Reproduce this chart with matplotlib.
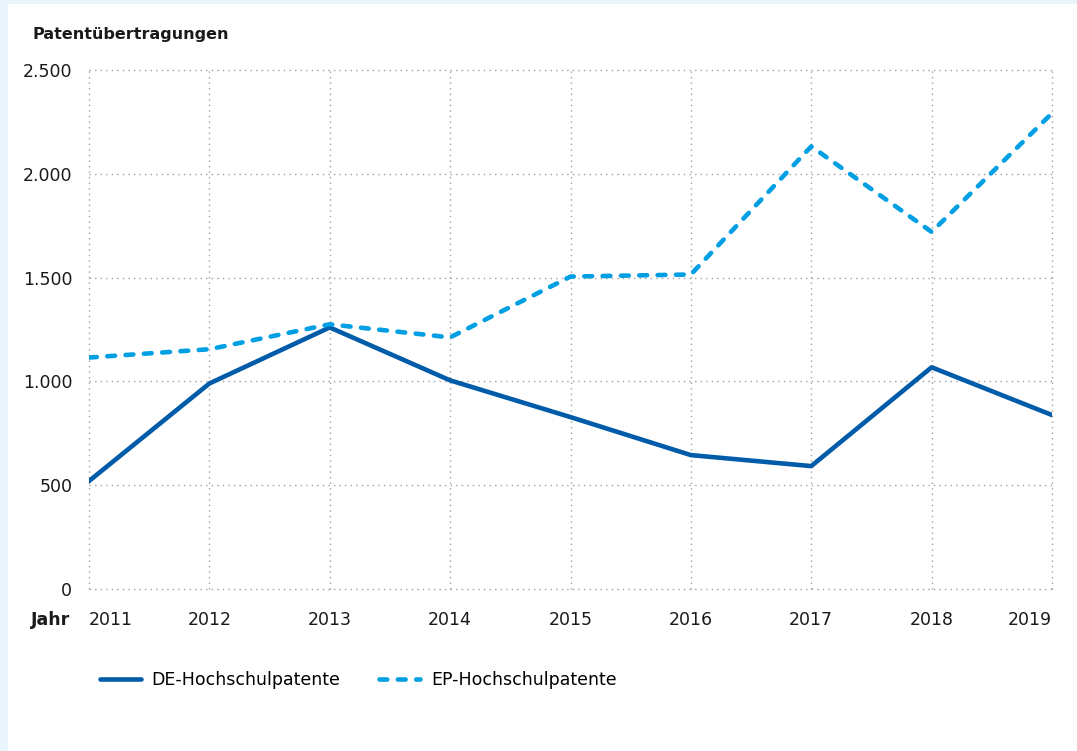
import matplotlib.pyplot as plt
from matplotlib.patches import Rectangle
import matplotlib.ticker as ticker

years = [2011, 2012, 2013, 2014, 2015, 2016, 2017, 2018, 2019]
de_patente = [520, 990, 1260, 1005, 828, 645, 592, 1068, 838]
ep_patente = [1115, 1155, 1275, 1212, 1505, 1515, 2132, 1720, 2292]
y_ticks = [0, 500, 1000, 1500, 2000, 2500]

plt.rcParams['font.family'] = ['DejaVu Sans']

fig = plt.figure(figsize=(10.77, 7.51), dpi=100, facecolor='#eaf4fb')
# weisse Flaeche mit hellblauem Rand links/oben
fig.patches.append(Rectangle((8 / 1077, 0), 1, 1 - 4 / 751, transform=fig.transFigure,
                             facecolor='white', edgecolor='none', zorder=-10))

ax = fig.add_axes([89 / 1077, 1 - 589 / 751, (1052 - 89) / 1077, (589 - 70) / 751])
ax.set_facecolor('none')

ax.plot(years, de_patente, color='#005ca9', lw=3.3, solid_capstyle='round',
        label='DE-Hochschulpatente', zorder=3)
ax.plot(years, ep_patente, color='#009fe3', lw=3.3, linestyle=(0, (1.7, 2.3)),
        dash_capstyle='round', label='EP-Hochschulpatente', zorder=3)

ax.set_xlim(2011, 2019)
ax.set_ylim(0, 2500)
ax.set_xticks(years)
ax.set_yticks(y_ticks)
ax.yaxis.set_major_formatter(ticker.FuncFormatter(lambda v, p: f'{int(v):,}'.replace(',', '.')))

ax.grid(True, color='#a0a0a0', linestyle=(0, (1, 3)), linewidth=1)
for gl in ax.get_xgridlines() + ax.get_ygridlines():
    gl.set_clip_on(False)
for s in ax.spines.values():
    s.set_visible(False)
ax.tick_params(length=0, labelsize=12.5, colors='#1a1a1a')
ax.tick_params(axis='y', pad=12)
ax.tick_params(axis='x', pad=16)
xl = ax.get_xticklabels()
xl[0].set_horizontalalignment('left')
xl[-1].set_horizontalalignment('right')

fig.text(32 / 1077, 1 - 35 / 751, 'Patentübertragungen', fontsize=11.5, fontweight='bold',
         va='center', ha='left', color='#1a1a1a')
fig.text(70 / 1077, 1 - 620 / 751, 'Jahr', fontsize=12.5, fontweight='bold',
         va='center', ha='right', color='#1a1a1a')

ax.legend(loc='center left', bbox_to_anchor=(84 / 1077, 1 - 680 / 751), bbox_transform=fig.transFigure,
          ncol=2, frameon=False, fontsize=12.5, handlelength=2.4, columnspacing=2.2, handletextpad=0.6)

fig.savefig('out.png', dpi=100, facecolor=fig.get_facecolor())
